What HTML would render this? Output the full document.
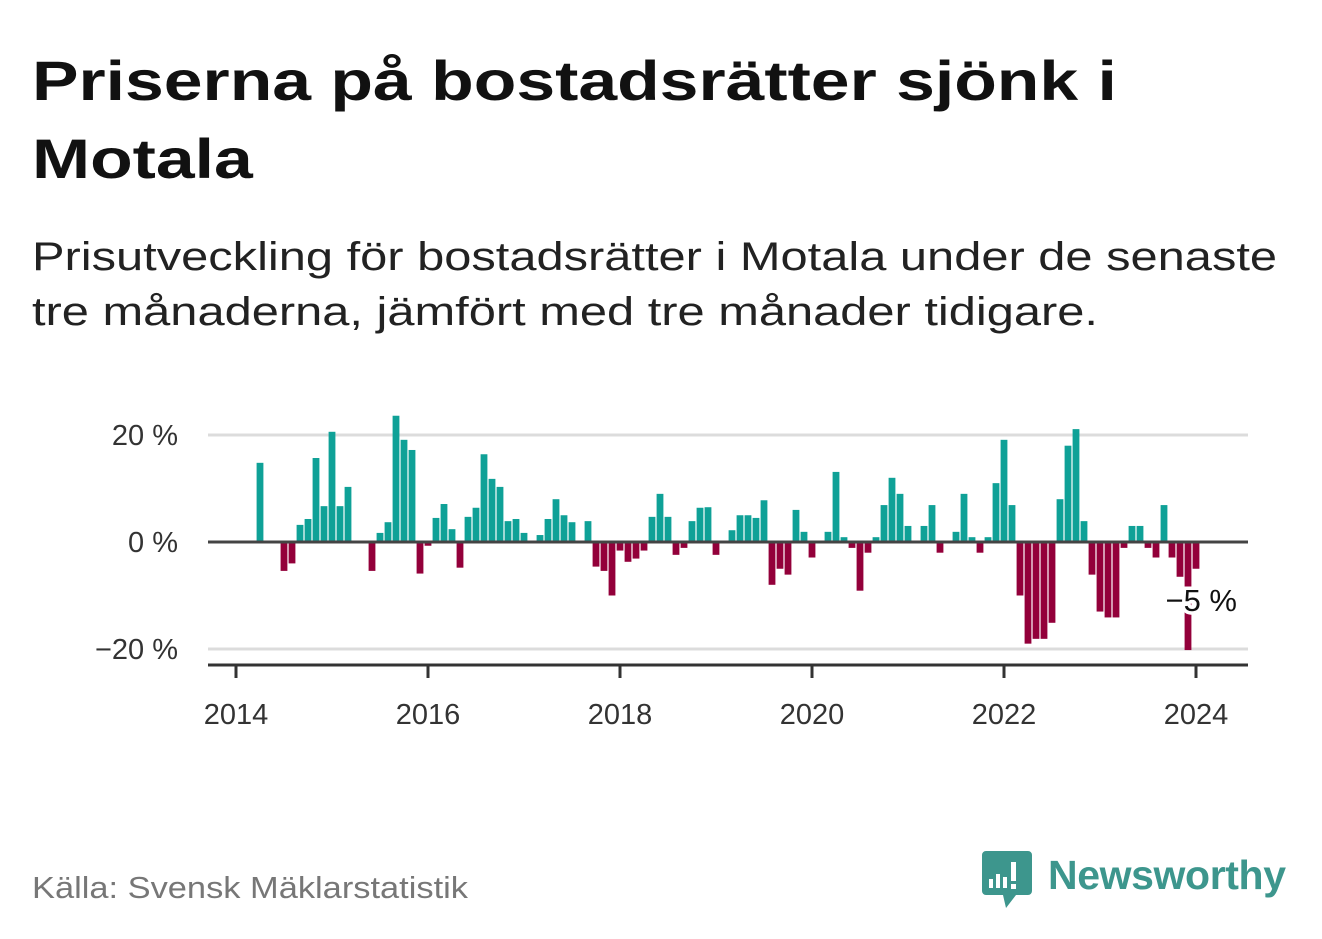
<!DOCTYPE html>
<html><head><meta charset="utf-8"><style>
body{margin:0;background:#fff;width:1322px;height:939px;overflow:hidden;font-family:"Liberation Sans",sans-serif;}
.ln{position:absolute;left:32px;white-space:nowrap;transform-origin:0 0;margin:0;}
.t{font-size:56px;font-weight:bold;color:#111;transform:scaleX(1.245);}
.s{font-size:40px;color:#222;transform:scaleX(1.22);}
.src{font-size:31px;color:#777;transform:scaleX(1.11);}
svg{position:absolute;left:0;top:0;}
</style></head><body>
<div>
<div class="ln t" style="top:48px">Priserna på bostadsrätter sjönk i</div>
<div class="ln t" style="top:126px">Motala</div>
</div>
<div>
<div class="ln s" style="top:235px">Prisutveckling för bostadsrätter i Motala under de senaste</div>
<div class="ln s" style="top:290px">tre månaderna, jämfört med tre månader tidigare.</div>
</div>
<div class="ln src" style="top:870px">Källa: Svensk Mäklarstatistik</div>
<svg id="chart" width="1322" height="939"></svg>
<svg width="1322" height="939">
<path d="M986 851h42a4 4 0 0 1 4 4v36a4 4 0 0 1-4 4h-12l-10 13-3-13h-17a4 4 0 0 1-4-4v-36a4 4 0 0 1 4-4z" fill="#3d968d"/>
<rect x="989" y="879" width="4" height="9" fill="#fff"/><rect x="996" y="874" width="4" height="14" fill="#fff"/><rect x="1003" y="877" width="4" height="11" fill="#fff"/><rect x="1011" y="862" width="5" height="19" fill="#fff"/><rect x="1011" y="884" width="5" height="5" fill="#fff"/>
<text x="1048" y="889" font-size="41" font-weight="bold" fill="#3d968d" font-family="Liberation Sans, sans-serif" textLength="238">Newsworthy</text>
</svg>
<script>
const startYear = 2014;
const months = Array.from({length:121},(_,i)=>i); // months since Jan 2014
const values = [null,null,null,14.8,null,null,-5.4,-4.0,3.2,4.3,15.7,6.7,
20.6,6.7,10.3,null,null,-5.4,1.7,3.7,23.6,19.1,17.2,-5.9,
-0.7,4.5,7.1,2.4,-4.8,4.7,6.4,16.4,11.8,10.3,3.9,4.3,
1.7,null,1.3,4.3,8.0,5.0,3.7,null,3.9,-4.6,-5.4,-10.0,
-1.6,-3.7,-3.1,-1.6,4.7,9.0,4.7,-2.4,-1.1,3.9,6.4,6.5,
-2.4,null,2.2,5.0,5.0,4.5,7.8,-8.0,-5.0,-6.1,6.0,1.9,
-2.9,null,1.9,13.1,0.9,-1.1,-9.1,-2.0,0.9,6.9,12.0,9.0,
3.0,null,3.0,6.9,-2.0,null,1.9,9.0,0.9,-2.0,0.9,11.0,
19.1,6.9,-10.0,-19.0,-18.1,-18.1,-15.1,8.0,18.0,21.1,3.9,-6.1,
-13.0,-14.1,-14.1,-1.1,3.0,3.0,-1.1,-2.9,6.9,-2.9,-6.5,-20.2,
-5.0];
const yTicks = [20,0,-20];
const yTickLabels = ["20 %","0 %","\u221220 %"];
const xTicks = [2014,2016,2018,2020,2022,2024];
const lastLabel = "\u22125 %";

const NS="http://www.w3.org/2000/svg";
const svg=document.getElementById('chart');
const x=m=>236+m*8;
const xYear=yr=>236+(yr-startYear)*96;
const y=v=>542-v*5.35;
function el(t,a){const e=document.createElementNS(NS,t);for(const k in a)e.setAttribute(k,a[k]);svg.appendChild(e);return e;}
yTicks.forEach((t,i)=>{
  if(t!==0){const g=el('line',{x1:208,x2:1248,y1:y(t),y2:y(t),stroke:'#dcdcdc','stroke-width':3});
  
  }
  const l=el('text',{x:178,y:y(t)+10,'text-anchor':'end','font-size':29,fill:'#333','font-family':'Liberation Sans, sans-serif'});
  l.textContent=yTickLabels[i];
  
  
});
months.forEach(m=>{
  const v=values[m]; if(v==null)return;
  const r=el('rect',{x:x(m)-3.4,width:6.8,y:Math.min(y(v),y(0)),height:Math.abs(y(v)-y(0)),fill:v>=0?'#0fa197':'#93003a'});
  
  
});
const z=el('line',{x1:208,x2:1248,y1:y(0),y2:y(0),stroke:'#444','stroke-width':3});


const lm=months[months.length-1];
const lb=el('text',{x:x(lm)+41,y:y(values[lm])+42,'text-anchor':'end','font-size':31,fill:'#111',stroke:'#fff','stroke-width':7,'paint-order':'stroke','font-family':'Liberation Sans, sans-serif'});
lb.textContent=lastLabel;


const ax=el('line',{x1:208,x2:1248,y1:665,y2:665,stroke:'#333','stroke-width':3});


xTicks.forEach(t=>{
  const tk=el('line',{x1:xYear(t),x2:xYear(t),y1:665,y2:678,stroke:'#333','stroke-width':3});
  
  
  const l=el('text',{x:xYear(t),y:724,'text-anchor':'middle','font-size':29,fill:'#333','font-family':'Liberation Sans, sans-serif'});
  l.textContent=t;
  
  
});
</script>
</body></html>
